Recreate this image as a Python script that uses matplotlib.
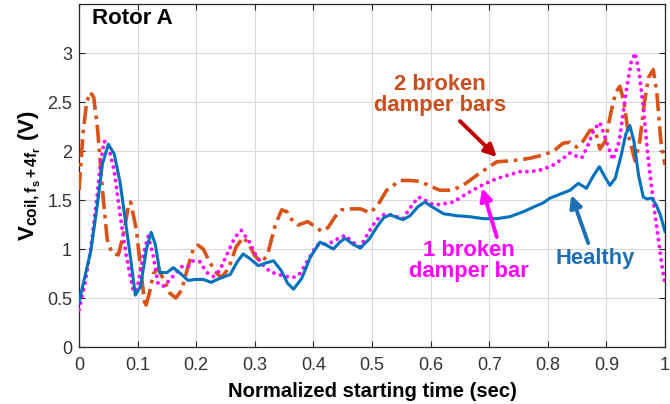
import matplotlib
matplotlib.use("Agg")
import matplotlib.pyplot as plt

plt.rcParams['font.family'] = ['Liberation Sans', 'DejaVu Sans']
plt.rcParams['mathtext.fontset'] = 'custom'
plt.rcParams['mathtext.rm'] = 'Liberation Sans'
plt.rcParams['mathtext.bf'] = 'Liberation Sans:bold'
plt.rcParams['mathtext.it'] = 'Liberation Sans:italic'

# ---- data ----
healthy_x = [0, 0.01, 0.02, 0.03, 0.04, 0.05, 0.06, 0.07, 0.08, 0.088, 0.096, 0.105, 0.115, 0.123,
             0.13, 0.138, 0.15, 0.161, 0.175, 0.186, 0.2, 0.212, 0.225, 0.24, 0.258, 0.27, 0.28,
             0.292, 0.306, 0.32, 0.332, 0.345, 0.356, 0.366, 0.38, 0.395, 0.411, 0.422, 0.434,
             0.445, 0.454, 0.467, 0.48, 0.495, 0.51, 0.52, 0.531, 0.543, 0.553, 0.565, 0.578,
             0.59, 0.6, 0.622, 0.645, 0.667, 0.69, 0.713, 0.735, 0.758, 0.78, 0.792, 0.804,
             0.821, 0.838, 0.852, 0.866, 0.878, 0.888, 0.897, 0.906, 0.915, 0.925, 0.933, 0.94,
             0.947, 0.955, 0.963, 0.97, 0.977, 0.985, 0.992, 1.0]
healthy_y = [0.46, 0.72, 0.98, 1.40, 1.87, 2.07, 1.97, 1.68, 1.25, 0.90, 0.53, 0.62, 1.00, 1.17,
             1.05, 0.76, 0.76, 0.81, 0.74, 0.68, 0.69, 0.69, 0.66, 0.70, 0.74, 0.87, 0.95,
             0.90, 0.83, 0.86, 0.88, 0.78, 0.65, 0.59, 0.70, 0.92, 1.07, 1.04, 1.00,
             1.07, 1.11, 1.05, 1.01, 1.10, 1.24, 1.32, 1.35, 1.32, 1.30, 1.34, 1.43,
             1.48, 1.44, 1.36, 1.34, 1.33, 1.31, 1.31, 1.33, 1.38, 1.44, 1.47, 1.52,
             1.56, 1.60, 1.67, 1.62, 1.75, 1.84, 1.74, 1.65, 1.72, 1.95, 2.17, 2.26,
             2.10, 1.75, 1.53, 1.51, 1.52, 1.45, 1.35, 1.18]

one_bar_x = [0, 0.01, 0.02, 0.03, 0.037, 0.043, 0.05, 0.06, 0.07, 0.08, 0.093, 0.1, 0.11, 0.118,
             0.126, 0.135, 0.145, 0.16, 0.175, 0.186, 0.195, 0.206, 0.218, 0.229, 0.24, 0.255,
             0.266, 0.277, 0.29, 0.303, 0.315, 0.326, 0.34, 0.354, 0.366, 0.377, 0.39, 0.406,
             0.428, 0.44, 0.454, 0.467, 0.48, 0.495, 0.508, 0.52, 0.531, 0.553, 0.565, 0.579,
             0.59, 0.605, 0.62, 0.639, 0.66, 0.684, 0.705, 0.724, 0.753, 0.77, 0.79, 0.81,
             0.825, 0.838, 0.848, 0.858, 0.868, 0.879, 0.889, 0.9, 0.911, 0.922, 0.934, 0.942,
             0.949, 0.956, 0.963, 0.97, 0.977, 0.983, 0.989, 0.995, 1.0]
one_bar_y = [0.38, 0.65, 1.00, 1.50, 1.90, 2.10, 2.05, 1.80, 1.35, 0.95, 0.56, 0.62, 0.95, 1.13,
             0.95, 0.64, 0.62, 0.72, 0.82, 0.82, 0.88, 0.87, 0.76, 0.72, 0.78, 0.98,
             1.12, 1.19, 1.08, 0.92, 0.83, 0.77, 0.74, 0.72, 0.71, 0.75, 0.88, 1.04,
             1.06, 1.10, 1.14, 1.07, 1.02, 1.18, 1.30, 1.35, 1.35, 1.31, 1.42, 1.53,
             1.50, 1.45, 1.46, 1.48, 1.56, 1.64, 1.70, 1.74, 1.79, 1.79, 1.81, 1.86,
             1.92, 1.98, 1.95, 1.93, 2.05, 2.22, 2.29, 2.10, 1.91, 2.10, 2.62, 2.90,
             3.00, 2.80, 2.45, 2.00, 1.64, 1.35, 1.09, 0.82, 0.65]

two_bars_x = [0, 0.007, 0.013, 0.019, 0.025, 0.032, 0.04, 0.048, 0.056, 0.067, 0.075, 0.084,
              0.088, 0.098, 0.106, 0.113, 0.12, 0.127, 0.135, 0.145, 0.155, 0.165, 0.175, 0.185,
              0.195, 0.203, 0.212, 0.222, 0.232, 0.243, 0.255, 0.268, 0.28, 0.29, 0.3, 0.312,
              0.322, 0.335, 0.346, 0.355, 0.365, 0.374, 0.39, 0.405, 0.414, 0.425, 0.437, 0.448,
              0.465, 0.48, 0.497, 0.51, 0.525, 0.548, 0.565, 0.582, 0.6, 0.616, 0.638, 0.66,
              0.685, 0.713, 0.735, 0.753, 0.772, 0.792, 0.81, 0.826, 0.838, 0.849, 0.86, 0.872,
              0.881, 0.889, 0.898, 0.908, 0.916, 0.923, 0.93, 0.938, 0.949, 0.957, 0.965, 0.972,
              0.98, 0.986, 0.993, 1.0]
two_bars_y = [1.60, 2.20, 2.50, 2.60, 2.55, 2.20, 1.60, 1.10, 0.96, 0.94, 1.13, 1.43,
              1.48, 1.19, 0.75, 0.40, 0.55, 0.75, 0.80, 0.68, 0.55, 0.50, 0.58, 0.80,
              1.00, 1.04, 1.00, 0.88, 0.77, 0.71, 0.80, 1.02, 1.12, 1.05, 0.93, 0.86,
              0.95, 1.25, 1.40, 1.38, 1.28, 1.245, 1.28, 1.22, 1.18, 1.22, 1.33, 1.40,
              1.41, 1.41, 1.37, 1.45, 1.60, 1.70, 1.70, 1.69, 1.64, 1.60, 1.60, 1.67,
              1.78, 1.89, 1.90, 1.91, 1.93, 1.96, 2.00, 2.08, 2.09, 2.04, 2.10, 2.21,
              2.21, 2.02, 2.10, 2.40, 2.60, 2.66, 2.50, 2.15, 1.90, 2.10, 2.50, 2.75,
              2.83, 2.60, 2.10, 1.86]

x_ticks = [0, 0.1, 0.2, 0.3, 0.4, 0.5, 0.6, 0.7, 0.8, 0.9, 1]
x_tick_labels = ['0', '0.1', '0.2', '0.3', '0.4', '0.5', '0.6', '0.7', '0.8', '0.9', '1']
y_ticks = [0, 0.5, 1, 1.5, 2, 2.5, 3]
y_tick_labels = ['0', '0.5', '1', '1.5', '2', '2.5', '3']

BLUE = '#0072BD'
ORANGE = '#D95319'
MAGENTA = '#FF00FF'

fig = plt.figure(figsize=(6.7, 4.04), dpi=100)
ax = fig.add_axes([0.118, 0.141, 0.8745, 0.849])

ax.plot(two_bars_x, two_bars_y, color=ORANGE, lw=2.6, ls=(0, (5, 1.6, 1, 1.6)), zorder=3,
        solid_joinstyle='round', dash_joinstyle='round')
ax.plot(one_bar_x, one_bar_y, color=MAGENTA, lw=2.8, ls=(0, (0.01, 1.75)), zorder=4,
        dash_capstyle='round')
ax.plot(healthy_x, healthy_y, color=BLUE, lw=2.2, zorder=5, solid_joinstyle='round')

ax.set_xlim(0, 1)
ax.set_ylim(0, 3.5)
ax.set_xticks(x_ticks)
ax.set_xticklabels(x_tick_labels)
ax.set_yticks(y_ticks)
ax.set_yticklabels(y_tick_labels)
ax.tick_params(direction='in', top=True, right=True, labelsize=13, colors='#262626',
               length=4, width=0.8, labelcolor='#333333')
ax.tick_params(axis='x', pad=7)
ax.tick_params(axis='y', pad=5)
ax.grid(True, color='#d9d9d9', lw=0.8)
for s in ax.spines.values():
    s.set_color('#262626')
    s.set_linewidth(0.9)

ax.set_xlabel('Normalized starting time (sec)', fontsize=14.6, fontweight='bold', labelpad=6)
ax.set_ylabel(r'$\mathbf{V_{coil,f_s+4f_r}}$ (V)', fontsize=16, fontweight='bold')
ax.yaxis.set_label_coords(-0.064, 0.5)

ax.text(0.022, 3.357, 'Rotor A', fontsize=16, fontweight='bold', color='black',
        ha='left', va='center')
ax.text(0.616, 2.57, '2 broken\ndamper bars', fontsize=15.8, fontweight='bold',
        color='#C8501E', ha='center', va='center', linespacing=1.0)
ax.text(0.666, 0.878, '1 broken\ndamper bar', fontsize=15.8, fontweight='bold',
        color=MAGENTA, ha='center', va='center', linespacing=1.0)
ax.text(0.881, 0.908, 'Healthy', fontsize=15.8, fontweight='bold',
        color='#1F6FB4', ha='center', va='center')

arrow_kw = dict(arrowstyle='-|>', lw=2.8, mutation_scale=18, shrinkA=0, shrinkB=0)
ax.annotate('', xy=(0.713, 1.939), xytext=(0.650, 2.306),
            arrowprops=dict(color='#C00000', **arrow_kw), zorder=6)
ax.annotate('', xy=(0.688, 1.622), xytext=(0.713, 1.122),
            arrowprops=dict(color=MAGENTA, **arrow_kw), zorder=6)
ax.annotate('', xy=(0.840, 1.551), xytext=(0.869, 1.061),
            arrowprops=dict(color='#1F6FB4', **arrow_kw), zorder=6)

fig.savefig('out.png', dpi=100)
